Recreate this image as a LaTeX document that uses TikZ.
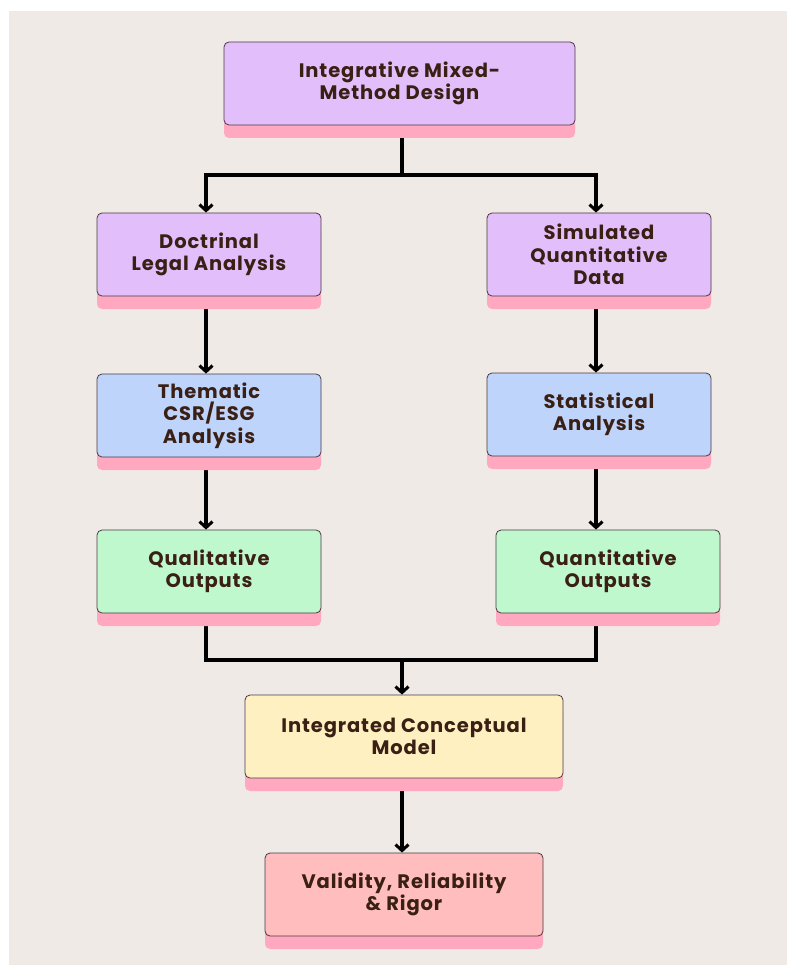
\documentclass[tikz,border=0pt]{standalone}
\usepackage{fontspec}
\setmainfont{Poppins}[LetterSpace=4.5]
\usetikzlibrary{arrows.meta,shadows,backgrounds,calc}
\definecolor{panel}{HTML}{EFEAE6}
\definecolor{purp}{HTML}{E2BFFB}
\definecolor{blu}{HTML}{BFD4FB}
\definecolor{grn}{HTML}{C0F8CE}
\definecolor{yel}{HTML}{FFF0C2}
\definecolor{pnk}{HTML}{FFBDBD}
\definecolor{shpink}{HTML}{FFA8C0}
\definecolor{txt}{HTML}{3A1F14}
\definecolor{edge}{HTML}{4A3A44}
\tikzset{
  box/.style={draw=edge, line width=0.8pt, rounded corners=5pt, align=center,
    text=txt, font=\fontsize{19.5}{22.5}\selectfont\bfseries, minimum height=83pt,
    drop shadow={shadow xshift=0pt, shadow yshift=-13pt, opacity=1, fill=shpink}},
  arr/.style={line width=3.2pt, -{Straight Barb[length=6pt,width=13pt,line width=3pt]}},
  ln/.style={line width=3.2pt}
}
\begin{document}
\begin{tikzpicture}[x=1pt,y=-1pt]
\useasboundingbox (0,0) rectangle (787,965);
\node[box, fill=purp, minimum width=351pt] (top) at (399.5,83.5) {Integrative Mixed-\\Method Design};
\node[box, fill=purp, minimum width=224pt] (doc) at (209,254.5) {Doctrinal\\Legal Analysis};
\node[box, fill=purp, minimum width=224pt] (sim) at (599,254.5) {Simulated\\Quantitative\\Data};
\node[box, fill=blu, minimum width=224pt] (them) at (209,415.5) {Thematic\\CSR/ESG\\Analysis};
\node[box, fill=blu, minimum width=224pt] (stat) at (599,414.5) {Statistical\\Analysis};
\node[box, fill=grn, minimum width=224pt] (qual) at (209,571.5) {Qualitative\\Outputs};
\node[box, fill=grn, minimum width=224pt] (quant) at (608,571.5) {Quantitative\\Outputs};
\node[box, fill=yel, minimum width=318pt] (integ) at (404,736.5) {Integrated Conceptual\\Model};
\node[box, fill=pnk, minimum width=278pt] (valid) at (404,894.5) {Validity, Reliability\\\& Rigor};
\coordinate (lx) at (206,0);
\coordinate (rx) at (596,0);
\coordinate (split) at (402,175);
\coordinate (merge) at (402,660);
\begin{scope}[on background layer]
\fill[white] (0,0) rectangle (787,965);
\fill[panel] (9,11) rectangle (787,965);
\draw[ln] (top.south -| split) -- (split);
\draw[arr] (split) -| (doc.north -| lx);
\draw[arr] (split) -| (sim.north -| rx);
\draw[arr] (doc.south -| lx) -- (them.north -| lx);
\draw[arr] (them.south -| lx) -- (qual.north -| lx);
\draw[arr] (sim.south -| rx) -- (stat.north -| rx);
\draw[arr] (stat.south -| rx) -- (quant.north -| rx);
\draw[ln] (qual.south -| lx) |- (merge);
\draw[ln] (quant.south -| rx) |- (merge);
\draw[arr] (merge) -- (integ.north -| merge);
\draw[arr] (integ.south -| merge) -- (valid.north -| merge);
\end{scope}
\end{tikzpicture}
\end{document}
